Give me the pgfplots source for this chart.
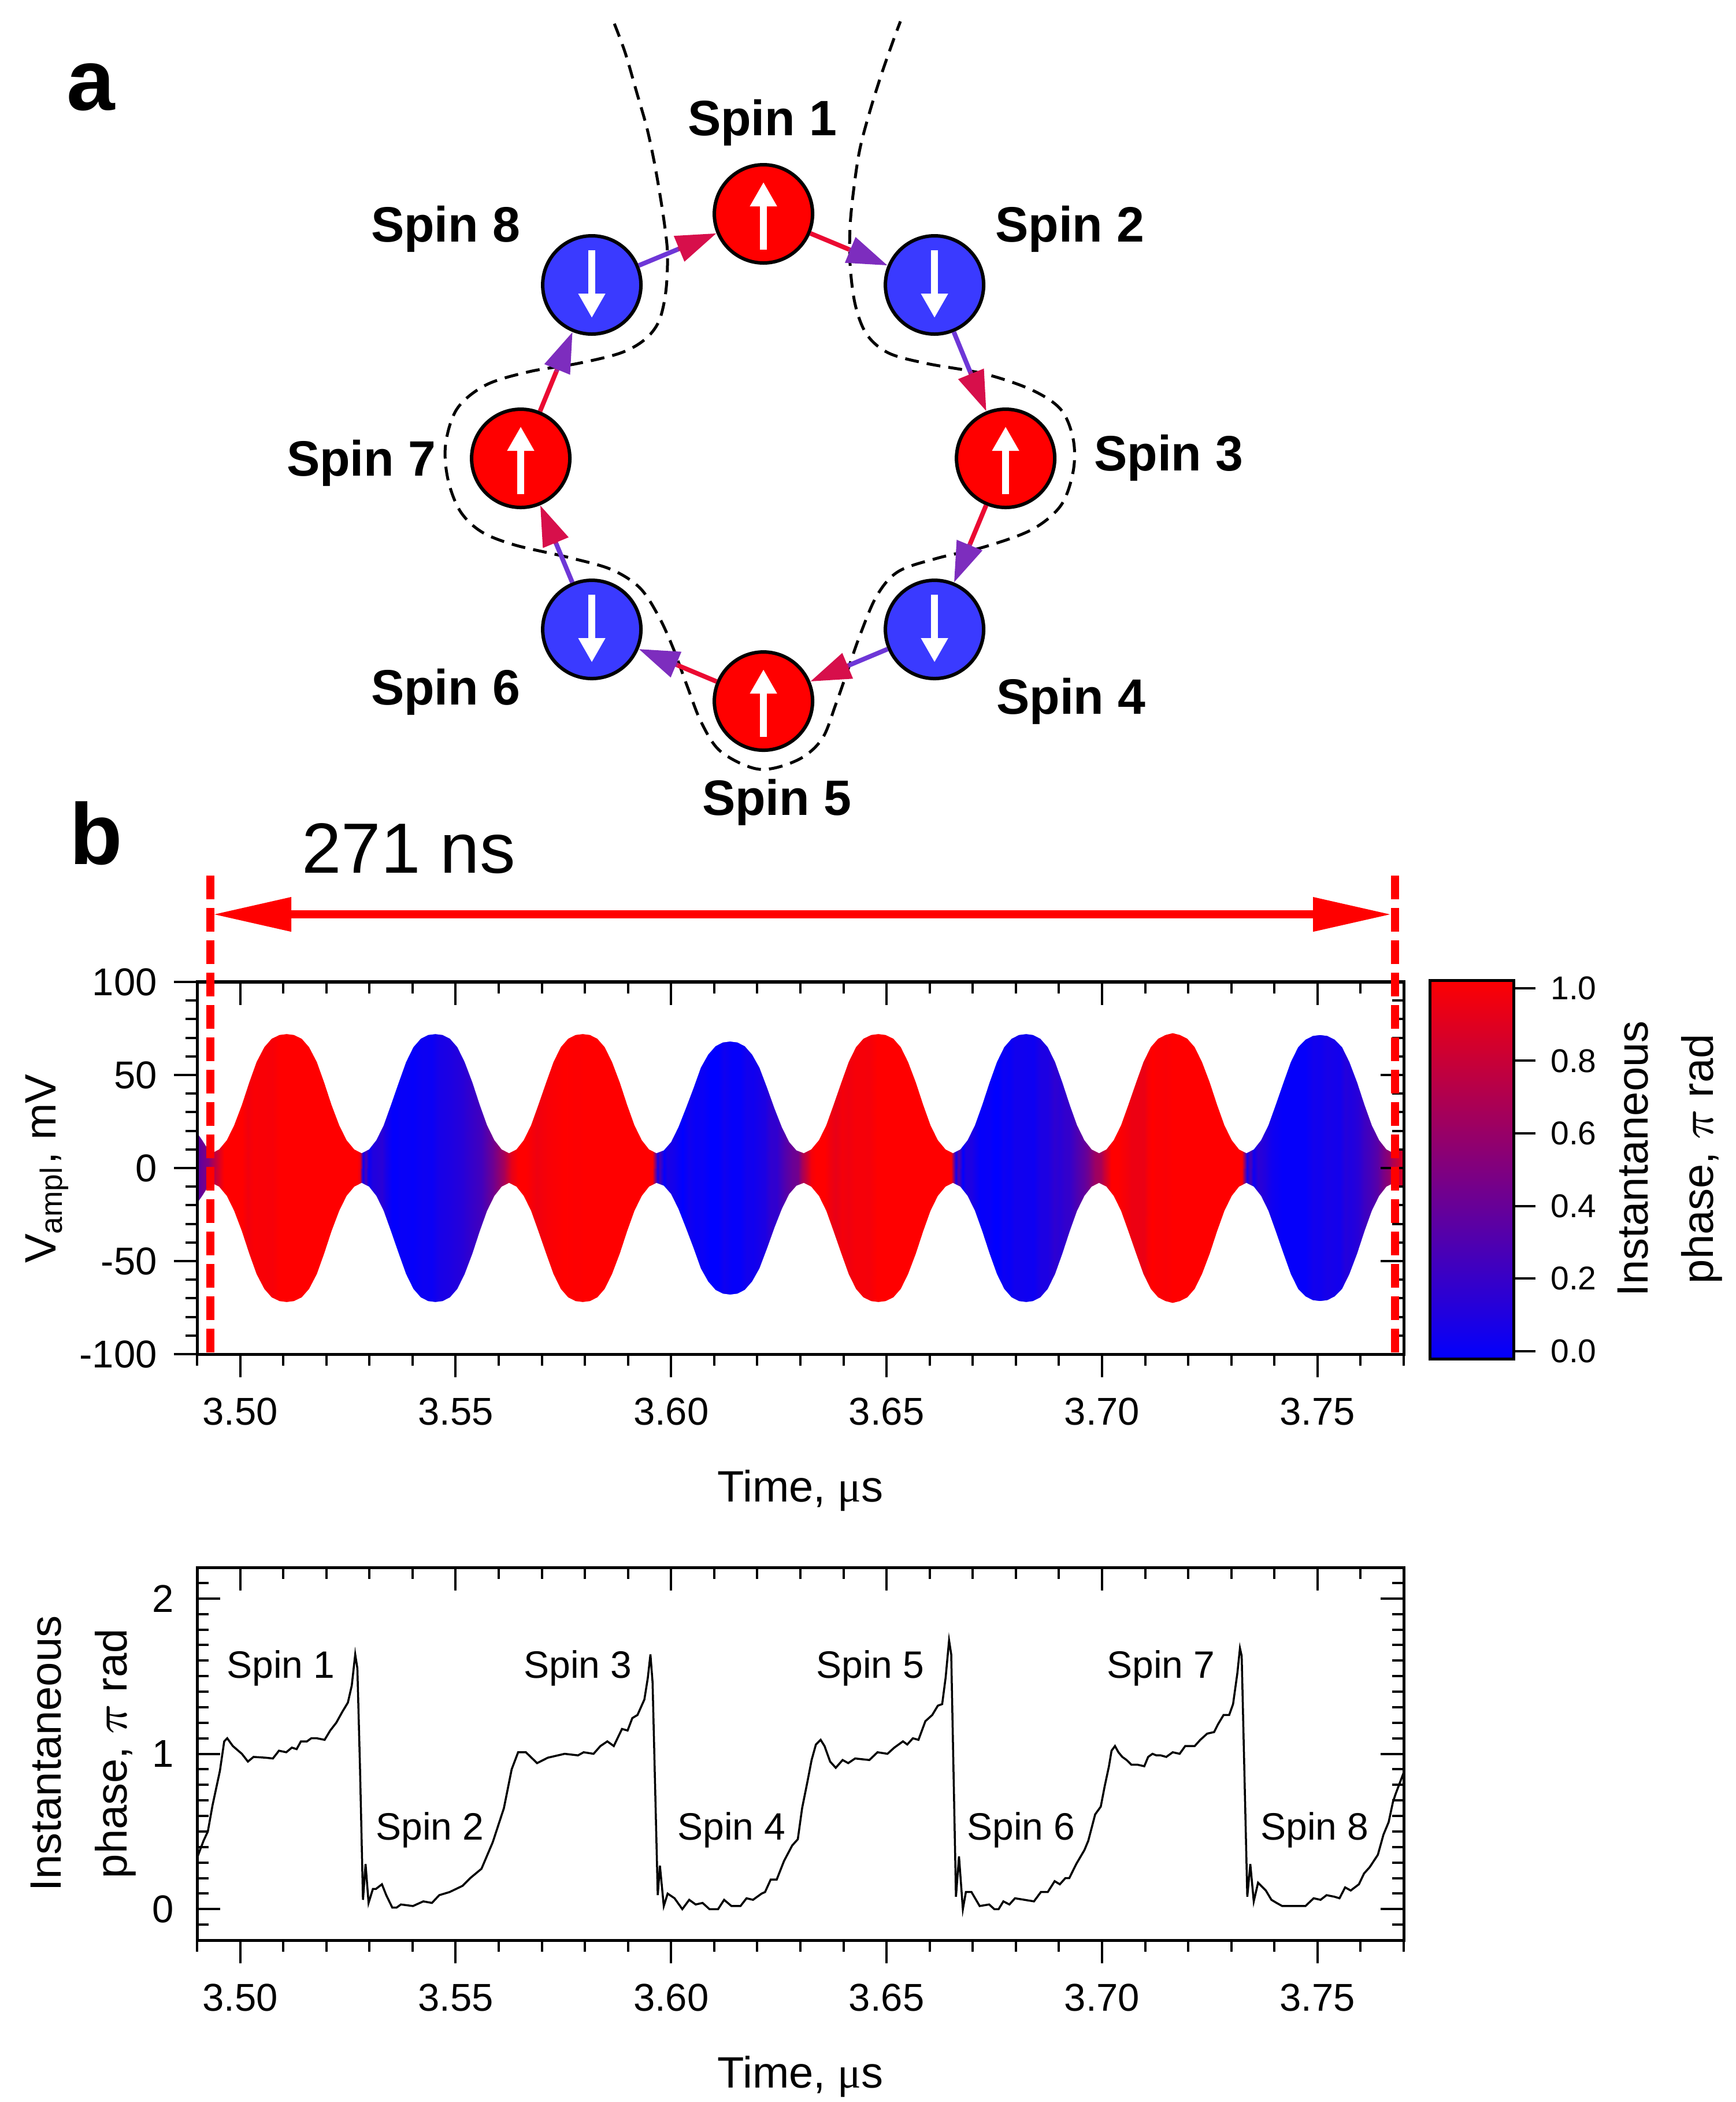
\documentclass[border=0pt]{standalone}
\usepackage{fontspec}
\setmainfont{Liberation Sans}
\newfontfamily\greekfont{Liberation Serif}
\usepackage{pgfplots}
\usepackage{pgfplotstable}
\pgfplotsset{compat=1.18}
\usetikzlibrary{arrows.meta,calc}

\definecolor{spinred}{RGB}{255,0,0}
\definecolor{spinblue}{RGB}{58,58,255}
\definecolor{arrP}{RGB}{110,55,215}
\definecolor{arrM}{RGB}{160,30,150}
\definecolor{arrC}{RGB}{215,15,75}
\definecolor{arrR}{RGB}{235,10,50}
\definecolor{arrQ}{RGB}{185,25,120}
\definecolor{arrV}{RGB}{125,45,190}

\pgfplotstableread{
t p
3.4900 0.33
3.4915 0.44
3.4925 0.50
3.4936 0.67
3.4953 0.89
3.4963 1.08
3.4970 1.10
3.4983 1.05
3.5004 1.00
3.5018 0.95
3.5031 0.98
3.5059 0.975
3.5076 0.97
3.5090 1.02
3.5107 1.01
3.5120 1.04
3.5131 1.03
3.5141 1.08
3.5155 1.08
3.5165 1.10
3.5178 1.10
3.5196 1.09
3.5209 1.15
3.5223 1.20
3.5237 1.27
3.5250 1.33
3.5259 1.44
3.5267 1.64
3.5272 1.55
3.5278 0.92
3.5285 0.06
3.5291 0.29
3.5298 0.04
3.5308 0.13
3.5315 0.13
3.5329 0.16
3.5339 0.09
3.5353 0.01
3.5363 0.01
3.5373 0.03
3.5401 0.02
3.5425 0.05
3.5445 0.04
3.5462 0.09
3.5486 0.11
3.5516 0.15
3.5534 0.20
3.5560 0.26
3.5586 0.43
3.5612 0.65
3.5630 0.90
3.5645 1.01
3.5663 1.01
3.5689 0.94
3.5714 0.975
3.5753 1.00
3.5784 0.99
3.5797 1.01
3.5820 1.00
3.5836 1.05
3.5852 1.08
3.5867 1.05
3.5886 1.16
3.5899 1.15
3.5910 1.23
3.5922 1.25
3.5938 1.35
3.5946 1.49
3.5952 1.64
3.5957 1.46
3.5969 0.09
3.5974 0.28
3.5983 0.02
3.5992 0.10
3.6008 0.07
3.6026 0.00
3.6042 0.06
3.6057 0.03
3.6073 0.04
3.6089 0.00
3.6109 0.00
3.6123 0.06
3.6140 0.02
3.6161 0.02
3.6175 0.07
3.6190 0.06
3.6210 0.10
3.6218 0.11
3.6231 0.19
3.6245 0.19
3.6262 0.31
3.6281 0.41
3.6294 0.45
3.6304 0.65
3.6317 0.83
3.6326 0.96
3.6336 1.06
3.6347 1.09
3.6356 1.05
3.6369 0.95
3.6382 0.91
3.6398 0.96
3.6411 0.94
3.6427 0.97
3.6460 0.96
3.6479 1.01
3.6502 1.00
3.6518 1.04
3.6538 1.08
3.6548 1.06
3.6561 1.10
3.6574 1.09
3.6590 1.21
3.6606 1.25
3.6619 1.31
3.6629 1.32
3.6637 1.49
3.6645 1.73
3.6650 1.64
3.6661 0.08
3.6668 0.34
3.6677 0.00
3.6684 0.11
3.6697 0.11
3.6716 0.02
3.6738 0.03
3.6750 0.00
3.6760 0.00
3.6771 0.05
3.6785 0.03
3.6798 0.07
3.6842 0.05
3.6858 0.11
3.6874 0.11
3.6890 0.18
3.6902 0.16
3.6915 0.20
3.6924 0.20
3.6940 0.29
3.6959 0.38
3.6968 0.44
3.6984 0.61
3.6997 0.66
3.7006 0.79
3.7016 0.92
3.7022 1.02
3.7030 1.05
3.7038 1.01
3.7047 0.98
3.7057 0.96
3.7068 0.93
3.7082 0.93
3.7098 0.92
3.7107 0.98
3.7117 1.00
3.7126 0.99
3.7136 0.99
3.7149 0.98
3.7164 1.01
3.7180 1.00
3.7193 1.05
3.7202 1.05
3.7215 1.05
3.7228 1.09
3.7244 1.13
3.7260 1.14
3.7269 1.19
3.7282 1.25
3.7295 1.25
3.7304 1.32
3.7314 1.52
3.7320 1.68
3.7324 1.63
3.7337 0.08
3.7344 0.29
3.7352 0.05
3.7362 0.17
3.7380 0.12
3.7393 0.06
3.7405 0.04
3.7418 0.02
3.7437 0.02
3.7472 0.02
3.7491 0.07
3.7507 0.06
3.7521 0.09
3.7539 0.08
3.7551 0.07
3.7564 0.14
3.7577 0.12
3.7596 0.16
3.7608 0.23
3.7621 0.27
3.7640 0.35
3.7653 0.48
3.7665 0.56
3.7675 0.69
3.7681 0.74
3.7700 0.88
}\phasetab

\pgfplotstableread{
t v p
3.4900 90 0.33
3.4915 90 0.44
3.4925 90 0.50
3.4936 90 0.67
3.4953 90 0.89
3.4963 90 1.08
3.4970 90 1.10
3.4983 90 1.05
3.5004 90 1.00
3.5018 90 0.95
3.5031 90 0.98
3.5059 90 0.975
3.5076 90 0.97
3.5090 90 1.02
3.5107 90 1.01
3.5120 90 1.04
3.5131 90 1.03
3.5141 90 1.08
3.5155 90 1.08
3.5165 90 1.10
3.5178 90 1.10
3.5196 90 1.09
3.5209 90 1.15
3.5223 90 1.20
3.5237 90 1.27
3.5250 90 1.33
3.5259 90 1.44
3.5267 90 1.64
3.5272 90 1.55
3.5278 90 0.92
3.5285 90 0.06
3.5291 90 0.29
3.5298 90 0.04
3.5308 90 0.13
3.5315 90 0.13
3.5329 90 0.16
3.5339 90 0.09
3.5353 90 0.01
3.5363 90 0.01
3.5373 90 0.03
3.5401 90 0.02
3.5425 90 0.05
3.5445 90 0.04
3.5462 90 0.09
3.5486 90 0.11
3.5516 90 0.15
3.5534 90 0.20
3.5560 90 0.26
3.5586 90 0.43
3.5612 90 0.65
3.5630 90 0.90
3.5645 90 1.01
3.5663 90 1.01
3.5689 90 0.94
3.5714 90 0.975
3.5753 90 1.00
3.5784 90 0.99
3.5797 90 1.01
3.5820 90 1.00
3.5836 90 1.05
3.5852 90 1.08
3.5867 90 1.05
3.5886 90 1.16
3.5899 90 1.15
3.5910 90 1.23
3.5922 90 1.25
3.5938 90 1.35
3.5946 90 1.49
3.5952 90 1.64
3.5957 90 1.46
3.5969 90 0.09
3.5974 90 0.28
3.5983 90 0.02
3.5992 90 0.10
3.6008 90 0.07
3.6026 90 0.00
3.6042 90 0.06
3.6057 90 0.03
3.6073 90 0.04
3.6089 90 0.00
3.6109 90 0.00
3.6123 90 0.06
3.6140 90 0.02
3.6161 90 0.02
3.6175 90 0.07
3.6190 90 0.06
3.6210 90 0.10
3.6218 90 0.11
3.6231 90 0.19
3.6245 90 0.19
3.6262 90 0.31
3.6281 90 0.41
3.6294 90 0.45
3.6304 90 0.65
3.6317 90 0.83
3.6326 90 0.96
3.6336 90 1.06
3.6347 90 1.09
3.6356 90 1.05
3.6369 90 0.95
3.6382 90 0.91
3.6398 90 0.96
3.6411 90 0.94
3.6427 90 0.97
3.6460 90 0.96
3.6479 90 1.01
3.6502 90 1.00
3.6518 90 1.04
3.6538 90 1.08
3.6548 90 1.06
3.6561 90 1.10
3.6574 90 1.09
3.6590 90 1.21
3.6606 90 1.25
3.6619 90 1.31
3.6629 90 1.32
3.6637 90 1.49
3.6645 90 1.73
3.6650 90 1.64
3.6661 90 0.08
3.6668 90 0.34
3.6677 90 0.00
3.6684 90 0.11
3.6697 90 0.11
3.6716 90 0.02
3.6738 90 0.03
3.6750 90 0.00
3.6760 90 0.00
3.6771 90 0.05
3.6785 90 0.03
3.6798 90 0.07
3.6842 90 0.05
3.6858 90 0.11
3.6874 90 0.11
3.6890 90 0.18
3.6902 90 0.16
3.6915 90 0.20
3.6924 90 0.20
3.6940 90 0.29
3.6959 90 0.38
3.6968 90 0.44
3.6984 90 0.61
3.6997 90 0.66
3.7006 90 0.79
3.7016 90 0.92
3.7022 90 1.02
3.7030 90 1.05
3.7038 90 1.01
3.7047 90 0.98
3.7057 90 0.96
3.7068 90 0.93
3.7082 90 0.93
3.7098 90 0.92
3.7107 90 0.98
3.7117 90 1.00
3.7126 90 0.99
3.7136 90 0.99
3.7149 90 0.98
3.7164 90 1.01
3.7180 90 1.00
3.7193 90 1.05
3.7202 90 1.05
3.7215 90 1.05
3.7228 90 1.09
3.7244 90 1.13
3.7260 90 1.14
3.7269 90 1.19
3.7282 90 1.25
3.7295 90 1.25
3.7304 90 1.32
3.7314 90 1.52
3.7320 90 1.68
3.7324 90 1.63
3.7337 90 0.08
3.7344 90 0.29
3.7352 90 0.05
3.7362 90 0.17
3.7380 90 0.12
3.7393 90 0.06
3.7405 90 0.04
3.7418 90 0.02
3.7437 90 0.02
3.7472 90 0.02
3.7491 90 0.07
3.7507 90 0.06
3.7521 90 0.09
3.7539 90 0.08
3.7551 90 0.07
3.7564 90 0.14
3.7577 90 0.12
3.7596 90 0.16
3.7608 90 0.23
3.7621 90 0.27
3.7640 90 0.35
3.7653 90 0.48
3.7665 90 0.56
3.7675 90 0.69
3.7681 90 0.74
3.7700 90 0.88
3.4900 -90 0.33
3.4915 -90 0.44
3.4925 -90 0.50
3.4936 -90 0.67
3.4953 -90 0.89
3.4963 -90 1.08
3.4970 -90 1.10
3.4983 -90 1.05
3.5004 -90 1.00
3.5018 -90 0.95
3.5031 -90 0.98
3.5059 -90 0.975
3.5076 -90 0.97
3.5090 -90 1.02
3.5107 -90 1.01
3.5120 -90 1.04
3.5131 -90 1.03
3.5141 -90 1.08
3.5155 -90 1.08
3.5165 -90 1.10
3.5178 -90 1.10
3.5196 -90 1.09
3.5209 -90 1.15
3.5223 -90 1.20
3.5237 -90 1.27
3.5250 -90 1.33
3.5259 -90 1.44
3.5267 -90 1.64
3.5272 -90 1.55
3.5278 -90 0.92
3.5285 -90 0.06
3.5291 -90 0.29
3.5298 -90 0.04
3.5308 -90 0.13
3.5315 -90 0.13
3.5329 -90 0.16
3.5339 -90 0.09
3.5353 -90 0.01
3.5363 -90 0.01
3.5373 -90 0.03
3.5401 -90 0.02
3.5425 -90 0.05
3.5445 -90 0.04
3.5462 -90 0.09
3.5486 -90 0.11
3.5516 -90 0.15
3.5534 -90 0.20
3.5560 -90 0.26
3.5586 -90 0.43
3.5612 -90 0.65
3.5630 -90 0.90
3.5645 -90 1.01
3.5663 -90 1.01
3.5689 -90 0.94
3.5714 -90 0.975
3.5753 -90 1.00
3.5784 -90 0.99
3.5797 -90 1.01
3.5820 -90 1.00
3.5836 -90 1.05
3.5852 -90 1.08
3.5867 -90 1.05
3.5886 -90 1.16
3.5899 -90 1.15
3.5910 -90 1.23
3.5922 -90 1.25
3.5938 -90 1.35
3.5946 -90 1.49
3.5952 -90 1.64
3.5957 -90 1.46
3.5969 -90 0.09
3.5974 -90 0.28
3.5983 -90 0.02
3.5992 -90 0.10
3.6008 -90 0.07
3.6026 -90 0.00
3.6042 -90 0.06
3.6057 -90 0.03
3.6073 -90 0.04
3.6089 -90 0.00
3.6109 -90 0.00
3.6123 -90 0.06
3.6140 -90 0.02
3.6161 -90 0.02
3.6175 -90 0.07
3.6190 -90 0.06
3.6210 -90 0.10
3.6218 -90 0.11
3.6231 -90 0.19
3.6245 -90 0.19
3.6262 -90 0.31
3.6281 -90 0.41
3.6294 -90 0.45
3.6304 -90 0.65
3.6317 -90 0.83
3.6326 -90 0.96
3.6336 -90 1.06
3.6347 -90 1.09
3.6356 -90 1.05
3.6369 -90 0.95
3.6382 -90 0.91
3.6398 -90 0.96
3.6411 -90 0.94
3.6427 -90 0.97
3.6460 -90 0.96
3.6479 -90 1.01
3.6502 -90 1.00
3.6518 -90 1.04
3.6538 -90 1.08
3.6548 -90 1.06
3.6561 -90 1.10
3.6574 -90 1.09
3.6590 -90 1.21
3.6606 -90 1.25
3.6619 -90 1.31
3.6629 -90 1.32
3.6637 -90 1.49
3.6645 -90 1.73
3.6650 -90 1.64
3.6661 -90 0.08
3.6668 -90 0.34
3.6677 -90 0.00
3.6684 -90 0.11
3.6697 -90 0.11
3.6716 -90 0.02
3.6738 -90 0.03
3.6750 -90 0.00
3.6760 -90 0.00
3.6771 -90 0.05
3.6785 -90 0.03
3.6798 -90 0.07
3.6842 -90 0.05
3.6858 -90 0.11
3.6874 -90 0.11
3.6890 -90 0.18
3.6902 -90 0.16
3.6915 -90 0.20
3.6924 -90 0.20
3.6940 -90 0.29
3.6959 -90 0.38
3.6968 -90 0.44
3.6984 -90 0.61
3.6997 -90 0.66
3.7006 -90 0.79
3.7016 -90 0.92
3.7022 -90 1.02
3.7030 -90 1.05
3.7038 -90 1.01
3.7047 -90 0.98
3.7057 -90 0.96
3.7068 -90 0.93
3.7082 -90 0.93
3.7098 -90 0.92
3.7107 -90 0.98
3.7117 -90 1.00
3.7126 -90 0.99
3.7136 -90 0.99
3.7149 -90 0.98
3.7164 -90 1.01
3.7180 -90 1.00
3.7193 -90 1.05
3.7202 -90 1.05
3.7215 -90 1.05
3.7228 -90 1.09
3.7244 -90 1.13
3.7260 -90 1.14
3.7269 -90 1.19
3.7282 -90 1.25
3.7295 -90 1.25
3.7304 -90 1.32
3.7314 -90 1.52
3.7320 -90 1.68
3.7324 -90 1.63
3.7337 -90 0.08
3.7344 -90 0.29
3.7352 -90 0.05
3.7362 -90 0.17
3.7380 -90 0.12
3.7393 -90 0.06
3.7405 -90 0.04
3.7418 -90 0.02
3.7437 -90 0.02
3.7472 -90 0.02
3.7491 -90 0.07
3.7507 -90 0.06
3.7521 -90 0.09
3.7539 -90 0.08
3.7551 -90 0.07
3.7564 -90 0.14
3.7577 -90 0.12
3.7596 -90 0.16
3.7608 -90 0.23
3.7621 -90 0.27
3.7640 -90 0.35
3.7653 -90 0.48
3.7665 -90 0.56
3.7675 -90 0.69
3.7681 -90 0.74
3.7700 -90 0.88
}\surftab

\pgfplotstableread{
t up lo
3.4900 96 -96
3.4900 19 -19
3.4912 15 -15
3.4923 11 -11
3.4934 8 -8
3.4951 10 -10
3.4969 15 -15
3.4986 23 -23
3.5004 34 -34
3.5021 46 -46
3.5038 57 -57
3.5056 65 -65
3.5073 69.5 -69.5
3.5091 71.5 -71.5
3.5108 72 -72
3.5125 71.5 -71.5
3.5143 69.5 -69.5
3.5160 65 -65
3.5178 57 -57
3.5195 46 -46
3.5212 34 -34
3.5230 23 -23
3.5247 15 -15
3.5265 10 -10
3.5282 8 -8
3.5299 10 -10
3.5316 15 -15
3.5333 23 -23
3.5350 34 -34
3.5368 46 -46
3.5385 57 -57
3.5402 65 -65
3.5419 69.5 -69.5
3.5436 71.5 -71.5
3.5453 72 -72
3.5470 71.5 -71.5
3.5487 69.5 -69.5
3.5504 65 -65
3.5521 57 -57
3.5539 46 -46
3.5556 34 -34
3.5573 23 -23
3.5590 15 -15
3.5607 10 -10
3.5624 8 -8
3.5641 10 -10
3.5658 15 -15
3.5675 23 -23
3.5692 34 -34
3.5710 46 -46
3.5727 57 -57
3.5744 65 -65
3.5761 69.5 -69.5
3.5778 71.5 -71.5
3.5795 72 -72
3.5812 71.5 -71.5
3.5829 69.5 -69.5
3.5846 65 -65
3.5863 57 -57
3.5881 46 -46
3.5898 34 -34
3.5915 23 -23
3.5932 15 -15
3.5949 10 -10
3.5966 8 -8
3.5983 9.5 -9.5
3.6000 14 -14
3.6017 22 -22
3.6034 32 -32
3.6052 43 -43
3.6069 54 -54
3.6086 61 -61
3.6103 65.5 -65.5
3.6120 67.5 -67.5
3.6137 68 -68
3.6154 67.5 -67.5
3.6171 65.5 -65.5
3.6188 61 -61
3.6205 54 -54
3.6223 43 -43
3.6240 32 -32
3.6257 22 -22
3.6274 14 -14
3.6291 9.5 -9.5
3.6308 8 -8
3.6325 10 -10
3.6343 15 -15
3.6360 23 -23
3.6377 34 -34
3.6395 46 -46
3.6412 57 -57
3.6429 65 -65
3.6446 69.5 -69.5
3.6464 71.5 -71.5
3.6481 72 -72
3.6498 71.5 -71.5
3.6516 69.5 -69.5
3.6533 65 -65
3.6550 57 -57
3.6568 46 -46
3.6585 34 -34
3.6602 23 -23
3.6619 15 -15
3.6637 10 -10
3.6654 8 -8
3.6671 10 -10
3.6688 15 -15
3.6705 23 -23
3.6722 34 -34
3.6739 46 -46
3.6756 57 -57
3.6773 65 -65
3.6790 69.5 -69.5
3.6807 71.5 -71.5
3.6824 72 -72
3.6840 71.5 -71.5
3.6857 69.5 -69.5
3.6874 65 -65
3.6891 57 -57
3.6908 46 -46
3.6925 34 -34
3.6942 23 -23
3.6959 15 -15
3.6976 10 -10
3.6993 8 -8
3.7010 10 -10
3.7027 15 -15
3.7044 23 -23
3.7061 34 -34
3.7079 46 -46
3.7096 57 -57
3.7113 65 -65
3.7130 69.5 -69.5
3.7147 71.5 -71.5
3.7164 72.5 -72.5
3.7181 71.5 -71.5
3.7198 69.5 -69.5
3.7215 65 -65
3.7232 57 -57
3.7250 46 -46
3.7267 34 -34
3.7284 23 -23
3.7301 15 -15
3.7318 10 -10
3.7335 8 -8
3.7352 10 -10
3.7369 15 -15
3.7386 23 -23
3.7403 34 -34
3.7421 46 -46
3.7438 57 -57
3.7455 65 -65
3.7472 69 -69
3.7489 71 -71
3.7506 71.5 -71.5
3.7523 71 -71
3.7540 69 -69
3.7557 65 -65
3.7574 57 -57
3.7592 46 -46
3.7609 34 -34
3.7626 23 -23
3.7643 15 -15
3.7660 10 -10
3.7677 8 -8
3.7700 11 -11
3.7700 96 -96
}\masktab

\pgfplotsset{
  myframe/.style={
    scale only axis, width=208.8pt, height=64.4pt,
    xmin=3.49, xmax=3.77,
    axis line style={line width=0.5pt},
    tick style={line width=0.4pt, black},
    major tick length=4pt, minor tick length=2pt,
    xtick={3.50,3.55,3.60,3.65,3.70,3.75},
    minor xtick={3.49,3.51,3.52,3.53,3.54,3.56,3.57,3.58,3.59,3.61,3.62,3.63,3.64,3.66,3.67,3.68,3.69,3.71,3.72,3.73,3.74,3.76,3.77},
    /pgf/number format/assume math mode=true,
    xticklabel style={font=\fontsize{6.7}{8}\selectfont, yshift=0pt, /pgf/number format/.cd, fixed, fixed zerofill, precision=2, assume math mode=true},
  },
  brmap/.style={colormap={br}{rgb255=(0,0,255) rgb255=(255,0,0)}},
}

\newcommand{\spinarrow}[5]{%
  \draw[line width=0.8pt, #3] (#1) -- ($(#1)!0.5!(#2)$);
  \draw[line width=0.8pt, #4, -{Triangle[length=7pt, width=4.6pt, color=#5]}] ($(#1)!0.5!(#2)$) -- (#2);
}
\newcommand{\upspin}[1]{\draw[white, line width=1.2pt, -{Triangle[length=4.2pt, width=4.4pt]}] ($(#1)+(0,62)$) -- ($(#1)+(0,-55)$);}
\newcommand{\downspin}[1]{\draw[white, line width=1.2pt, -{Triangle[length=4.2pt, width=4.4pt]}] ($(#1)+(0,-60)$) -- ($(#1)+(0,57)$);}

\begin{document}
\begin{tikzpicture}
\useasboundingbox (0pt,0pt) rectangle (300.3pt,-363.7pt);

% ---------- panel b, top ----------
\begin{axis}[myframe, at={(34.1pt,-234.3pt)}, anchor=south west,
  ymin=-100, ymax=100,
  ytick={-100,-50,0,50,100},
  minor ytick={-90,-80,-70,-60,-40,-30,-20,-10,10,20,30,40,60,70,80,90},
  xtick pos=left, ytick pos=left, tick align=outside,
  yticklabel style={font=\fontsize{6.7}{8}\selectfont, xshift=0.6pt},
  axis on top, brmap,
  point meta min=0, point meta max=1]
\addplot[surf, shader=interp, mesh/rows=2, point meta=explicit] table[x=t, y=v, meta=p] {\surftab};
\addplot[fill=white, draw=none] table[x=t, y=up] {\masktab};
\addplot[fill=white, draw=none] table[x=t, y=lo] {\masktab};
\end{axis}

\begin{axis}[myframe, at={(34.1pt,-234.3pt)}, anchor=south west,
  ymin=-100, ymax=100,
  ytick={-100,-50,0,50,100},
  minor ytick={-90,-80,-70,-60,-40,-30,-20,-10,10,20,30,40,60,70,80,90},
  xtick pos=right, ytick pos=right, tick align=inside,
  xticklabels={}, yticklabels={}]
\addplot[draw=none] coordinates {(3.50,0) (3.60,10)};
\end{axis}

% colour bar
\begin{axis}[at={(247.4pt,-235.1pt)}, anchor=south west, scale only axis,
  width=14.5pt, height=65.5pt,
  xmin=0, xmax=1, ymin=-0.021, ymax=1.022,
  xtick=\empty, ytick={0,0.2,0.4,0.6,0.8,1},
  ytick pos=right, yticklabel pos=right,
  tick align=outside, major tick length=3.8pt,
  tick style={line width=0.4pt, black},
  axis line style={line width=0.5pt},
  axis on top, brmap,
  point meta min=0, point meta max=1,
  /pgf/number format/assume math mode=true,
  yticklabel style={font=\fontsize{5.7}{7}\selectfont, xshift=-0.9pt, /pgf/number format/.cd, fixed, fixed zerofill, precision=1, assume math mode=true}]
\addplot[surf, shader=interp, mesh/rows=2, point meta=explicit] table[x=x, y=y, meta=c] {
x y c
0 -0.03 0
1 -0.03 0
0 1.03 1
1 1.03 1
};
\end{axis}

% ---------- panel b, bottom ----------
\begin{axis}[myframe, at={(34.1pt,-335.7pt)}, anchor=south west, height=64.5pt,
  ymin=-0.2, ymax=2.2, ytick={0,1,2},
  xtick pos=left, ytick pos=left, tick align=outside,
  ytick style={draw=none},
  yticklabel style={font=\fontsize{6.7}{8}\selectfont, xshift=3.5pt}]
\addplot[black, line width=0.35pt] table[x=t, y=p] {\phasetab};
\end{axis}

\begin{axis}[myframe, at={(34.1pt,-335.7pt)}, anchor=south west, height=64.5pt,
  ymin=-0.2, ymax=2.2, ytick={0,1,2},
  minor ytick={-0.1,0.1,0.2,0.3,0.4,0.5,0.6,0.7,0.8,0.9,1.1,1.2,1.3,1.4,1.5,1.6,1.7,1.8,1.9,2.1},
  xtick pos=right, ytick pos=both, tick align=inside,
  xticklabels={}, yticklabels={}]
\addplot[draw=none] coordinates {(3.50,0) (3.60,1)};
\end{axis}

\begin{scope}[x=0.1pt, y=-0.1pt]
% ---------- panel a ----------
\node[anchor=base west, inner sep=0pt, font=\bfseries\fontsize{15}{18}\selectfont] at (113,190) {a};

\draw[black, line width=0.5pt, dash pattern=on 2.4pt off 1.4pt] plot[smooth, tension=0.55] coordinates {
(1063,41) (1082,92) (1102,161) (1119,220) (1131,275) (1141,331) (1150,390) (1155,441) (1152,505) (1140,556) (1115,588) (1073,611) (999,629) (916,643) (841,666) (791,707) (771,769) (775,829) (796,884) (833,920) (891,943) (982,964) (1057,985) (1107,1017) (1140,1067) (1165,1122) (1189,1187) (1214,1251) (1248,1301) (1314,1331) (1380,1315) (1422,1279) (1446,1219) (1467,1159) (1488,1099) (1517,1031) (1554,989) (1621,966) (1704,946) (1786,916) (1836,874) (1857,815) (1857,760) (1836,709) (1786,675) (1704,647) (1604,629) (1538,611) (1500,579) (1480,528) (1471,459) (1471,390) (1478,321) (1488,257) (1505,193) (1525,129) (1546,69) (1558,37)};

\tikzset{spin/.style={circle, draw=black, line width=0.6pt, minimum size=17pt, inner sep=0pt}}
\node[spin, fill=spinred]  (s1) at (1321,370) {};
\node[spin, fill=spinblue] (s2) at (1617,493) {};
\node[spin, fill=spinred]  (s3) at (1740,793) {};
\node[spin, fill=spinblue] (s4) at (1617,1089) {};
\node[spin, fill=spinred]  (s5) at (1321,1213) {};
\node[spin, fill=spinblue] (s6) at (1024,1089) {};
\node[spin, fill=spinred]  (s7) at (901,793) {};
\node[spin, fill=spinblue] (s8) at (1024,493) {};

\upspin{s1}\upspin{s3}\upspin{s5}\upspin{s7}
\downspin{s2}\downspin{s4}\downspin{s6}\downspin{s8}

\spinarrow{s8}{s1}{arrP}{arrM}{arrC}
\spinarrow{s1}{s2}{arrR}{arrQ}{arrV}
\spinarrow{s2}{s3}{arrP}{arrM}{arrC}
\spinarrow{s3}{s4}{arrR}{arrQ}{arrV}
\spinarrow{s4}{s5}{arrP}{arrM}{arrC}
\spinarrow{s5}{s6}{arrR}{arrQ}{arrV}
\spinarrow{s6}{s7}{arrP}{arrM}{arrC}
\spinarrow{s7}{s8}{arrR}{arrQ}{arrV}

\begin{scope}[every node/.style={anchor=base, inner sep=0pt, font=\bfseries\fontsize{8.6}{10}\selectfont}]
\node at (1319,234) {Spin 1};
\node at (1851,418) {Spin 2};
\node at (2022,814) {Spin 3};
\node at (1853,1235) {Spin 4};
\node at (1344,1410) {Spin 5};
\node at (771,1219) {Spin 6};
\node at (625,823) {Spin 7};
\node at (771,418) {Spin 8};
\end{scope}

% ---------- panel b labels ----------
\node[anchor=base west, inner sep=0pt, font=\bfseries\fontsize{15}{18}\selectfont] at (118,1495) {b};
\node[rotate=90, font=\fontsize{7.6}{9}\selectfont] at (81,2022) {V\textsubscript{ampl}, mV};
\node[anchor=base, font=\fontsize{7.6}{9}\selectfont] at (1385,2598) {Time, {\greekfont μ}s};
\node[anchor=base, font=\fontsize{7.6}{9}\selectfont] at (1385,3612) {Time, {\greekfont μ}s};
\node[rotate=90, align=center, font=\fontsize{7.6}{11.3}\selectfont] at (2890,2005) {Instantaneous\\phase, $\pi$ rad};
\node[rotate=90, align=center, font=\fontsize{7.6}{11.4}\selectfont] at (144,3034) {Instantaneous\\phase, $\pi$ rad};

\begin{scope}[every node/.style={anchor=base, inner sep=0pt, font=\fontsize{6.6}{8}\selectfont}]
\node at (486,2903) {Spin 1};
\node at (1000,2903) {Spin 3};
\node at (1506,2903) {Spin 5};
\node at (2009,2903) {Spin 7};
\node at (744,3183) {Spin 2};
\node at (1266,3183) {Spin 4};
\node at (1767,3183) {Spin 6};
\node at (2275,3183) {Spin 8};
\end{scope}

% ---------- 271 ns marker ----------
\node[anchor=base, inner sep=0pt, font=\fontsize{12.3}{15}\selectfont] at (707,1510) {271 ns};
\draw[red, line width=1.4pt, dash pattern=on 4.1pt off 1.5pt] (364,1515) -- (364,2343);
\draw[red, line width=1.4pt, dash pattern=on 4.1pt off 1.5pt] (2414,1515) -- (2414,2343);
\draw[red, line width=1.4pt, {Triangle[length=13.6pt,width=5.6pt]}-{Triangle[length=13.6pt,width=5.6pt]}] (368,1582) -- (2408,1582);
\end{scope}
\end{tikzpicture}
\end{document}
